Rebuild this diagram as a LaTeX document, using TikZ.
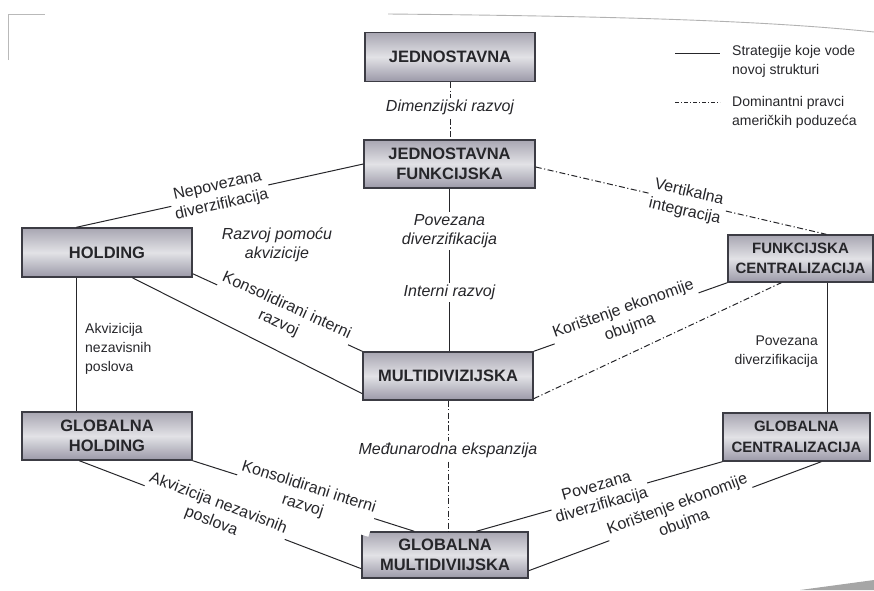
\documentclass[tikz,border=0pt]{standalone}
\usepackage{fontspec}
\setmainfont{Liberation Sans}
\usetikzlibrary{calc}
\definecolor{boxtop}{RGB}{168,166,178}
\definecolor{boxmid}{RGB}{226,226,230}
\definecolor{boxbot}{RGB}{155,153,168}
\definecolor{boxline}{RGB}{60,60,68}
\definecolor{ink}{RGB}{38,38,42}
\begin{document}
\begin{tikzpicture}[x=1pt,y=-1pt,
  box/.style={draw=boxline, line width=1.4pt, top color=boxtop, bottom color=boxbot, middle color=boxmid,
    font=\fontsize{16.5}{20.5}\selectfont\bfseries, text=ink, align=center, inner sep=0pt},
  rbox/.style={box, font=\fontsize{15}{20.5}\selectfont\bfseries},
  lbl/.style={fill=white, inner sep=2pt, align=center, font=\fontsize{16}{19.5}\selectfont, text=ink},
  ilbl/.style={lbl, font=\fontsize{16}{19.5}\selectfont\itshape},
  slbl/.style={inner sep=0pt, font=\fontsize{14}{19}\selectfont, text=ink},
  con/.style={line width=1pt, draw=ink},
  dd/.style={con, dash pattern=on 6pt off 2.5pt on 1.2pt off 2.5pt}]
\useasboundingbox (0,0) rectangle (874,590);

% scan artifacts
\draw[gray!60, line width=0.9pt] (388,14) .. controls (600,16) and (760,20) .. (874,32);
\draw[gray!55, line width=0.8pt] (8,60) -- (8,14) -- (45,14);
\fill[gray!70] (800,590) -- (874,580) -- (874,590) -- cycle;

% boxes
\node[box, minimum width=170pt, minimum height=49pt] (J)  at (450,57)  {JEDNOSTAVNA};
\node[box, minimum width=171pt, minimum height=48pt] (JF) at (449.5,164) {JEDNOSTAVNA\\FUNKCIJSKA};
\node[box, minimum width=170pt, minimum height=49pt] (H)  at (107,252.5) {HOLDING};
\node[box, minimum width=170pt, minimum height=48pt] (M)  at (448,376) {MULTIDIVIZIJSKA};
\node[rbox, minimum width=145pt, minimum height=47pt] (FC) at (800.5,258.5) {FUNKCIJSKA\\CENTRALIZACIJA};
\node[box, minimum width=170pt, minimum height=48pt] (GH) at (107,436) {GLOBALNA\\HOLDING};
\node[box, minimum width=166pt, minimum height=46pt] (GM) at (445,555) {GLOBALNA\\MULTIDIVIIJSKA};
\node[rbox, minimum width=147pt, minimum height=48pt] (GC) at (796.5,437) {GLOBALNA\\CENTRALIZACIJA};

% connectors
\draw[dd] (J.south) -- node[ilbl, pos=0.44] {Dimenzijski razvoj} (J.south |- JF.north);
\draw[con] (JF.west) -- node[lbl, sloped, pos=0.5] {Nepovezana\\diverzifikacija} ([xshift=55pt]H.north west);
\draw[con] (JF.south) -- node[ilbl, pos=0.26] {Povezana\\diverzifikacija} node[ilbl, pos=0.64] {Interni razvoj} (JF.south |- M.north);
\draw[con] ([xshift=111pt]H.south west) -- ([yshift=7pt]M.south west);
\draw[con] ([yshift=4pt]H.south east) -- node[lbl, sloped, pos=0.53] {Konsolidirani interni\\razvoj} (M.north west);
\draw[con] ([xshift=55pt]H.south west) -- ([xshift=55pt]GH.north west);
\node[slbl, anchor=west, align=left] (akv) at (85,349) {Akvizicija\\nezavisnih\\poslova};
\node[ilbl, fill=none] (rpa) at (277,245) {Razvoj pomoću\\akvizicije};

\draw[con] (M.north east) -- node[lbl, sloped, pos=0.48] {Korištenje ekonomije\\obujma} (FC.south west);
\draw[dd] ([yshift=2pt]M.south east) -- ([xshift=54pt]FC.south west);
\draw[dd] ([yshift=-3pt]JF.east) -- node[lbl, sloped, pos=0.52] {Vertikalna\\integracija} ([xshift=99pt]FC.north west);
\draw[con] ([xshift=100pt]FC.south west) -- ([xshift=100pt]FC.south west |- GC.north);
\node[slbl, anchor=east, align=right] (pdr) at (818,352) {Povezana\\diverzifikacija};

\draw[dd] (M.south) -- node[ilbl, pos=0.38] {Međunarodna ekspanzija} (M.south |- GM.north);
\draw[con] (GH.south east) -- node[lbl, sloped, pos=0.51] {Konsolidirani interni\\razvoj} ([xshift=53pt]GM.north west);
\draw[con] ([xshift=58pt]GH.south west) -- node[lbl, sloped, pos=0.48] {Akvizicija nezavisnih\\poslova} ([yshift=10pt]GM.south west);
\draw[con] (GC.south west) -- node[lbl, sloped, pos=0.5] {Povezana\\diverzifikacija} ([xshift=115pt]GM.north west);
\draw[con] ([xshift=99pt]GC.south west) -- node[lbl, sloped, pos=0.48] {Korištenje ekonomije\\obujma} ([yshift=8pt]GM.south east);

% legend
\coordinate (l1a) at (675,53); \coordinate (l1b) at (720,53);
\draw[con] (l1a) -- (l1b);
\node[slbl, anchor=west, align=left] (leg1) at (732,61) {Strategije koje vode\\novoj strukturi};
\coordinate (l2a) at (675,102); \coordinate (l2b) at (720,102);
\draw[dd, dash pattern=on 4pt off 2pt on 1pt off 2pt] (l2a) -- (l2b);
\node[slbl, anchor=west, align=left] (leg2) at (732,112) {Dominantni pravci\\američkih poduzeća};
\end{tikzpicture}
\end{document}
